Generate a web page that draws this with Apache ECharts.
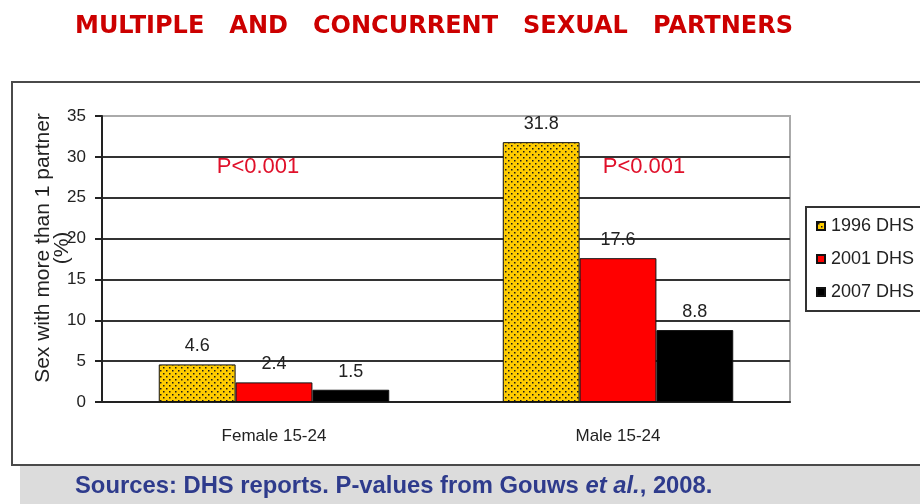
<!DOCTYPE html>
<html>
<head>
<meta charset="utf-8">
<script src="https://cdn.jsdelivr.net/npm/echarts@6/dist/echarts.min.js"></script>
<style>
  html, body { margin: 0; padding: 0; background: #fff; }
  #chart { width: 920px; height: 504px; }
</style>
</head>
<body>
<div id="chart"></div>
<script>
const categories = ['Female 15-24', 'Male 15-24']
const seriesNames = ['1996 DHS', '2001 DHS', '2007 DHS']
const dhs1996 = [4.6, 31.8]
const dhs2001 = [2.4, 17.6]
const dhs2007 = [1.5, 8.8]
const yTicks = [0, 5, 10, 15, 20, 25, 30, 35]

// dotted yellow fill like the original
function dotPattern() {
  const c = document.createElement('canvas')
  c.width = 6
  c.height = 6
  const ctx = c.getContext('2d')
  ctx.fillStyle = '#ffcc00'
  ctx.fillRect(0, 0, 6, 6)
  ctx.fillStyle = '#1a1a1a'
  ctx.fillRect(1, 1, 1.5, 1.5)
  ctx.fillRect(4, 4, 1.5, 1.5)
  return c
}

const colors = [{ image: dotPattern(), repeat: 'repeat' }, '#ff0000', '#000000']
const values = [dhs1996, dhs2001, dhs2007]

const chart = echarts.init(document.getElementById('chart'))

const labelStyle = {
  show: true,
  position: 'top',
  distance: 9,
  fontFamily: 'Liberation Sans, Arial',
  fontSize: 18,
  color: '#222'
}

chart.setOption({
  animation: false,
  title: {
    text: 'MULTIPLE   AND   CONCURRENT   SEXUAL   PARTNERS',
    left: 70,
    top: 10,
    textStyle: {
      fontFamily: 'DejaVu Sans',
      fontWeight: 'bold',
      fontSize: 24,
      color: '#cc0000'
    }
  },
  legend: {
    orient: 'vertical',
    left: 806,
    top: 207,
    padding: [10, 40, 10, 10],
    itemGap: 15,
    itemWidth: 8,
    itemHeight: 8,
    icon: 'rect',
    borderColor: '#333',
    borderWidth: 2,
    textStyle: {
      fontFamily: 'Liberation Sans, Arial',
      fontSize: 18,
      color: '#222',
      padding: [0, 0, 0, 1]
    },
    data: seriesNames
  },
  grid: {
    left: 102,
    right: 130,
    top: 116,
    bottom: 102,
    show: true,
    borderColor: '#aaa',
    borderWidth: 2
  },
  xAxis: {
    type: 'category',
    data: categories,
    axisLine: { lineStyle: { color: '#222', width: 2 } },
    axisTick: { show: false },
    axisLabel: {
      margin: 26,
      fontFamily: 'Liberation Sans, Arial',
      fontSize: 17,
      color: '#222'
    }
  },
  yAxis: {
    type: 'value',
    min: yTicks[0],
    max: yTicks[yTicks.length - 1],
    interval: 5,
    name: 'Sex with more than 1 partner\n(%)',
    nameLocation: 'middle',
    nameRotate: 90,
    nameGap: 30,
    nameMoveOverlap: false,
    nameTextStyle: {
      fontFamily: 'Liberation Sans, Arial',
      fontSize: 21,
      lineHeight: 19,
      color: '#222',
      padding: [0, 0, 0, 22]
    },
    axisLine: { show: true, lineStyle: { color: '#222', width: 2 } },
    axisTick: { show: true, length: 7, lineStyle: { color: '#222', width: 2 } },
    axisLabel: {
      margin: 16,
      fontFamily: 'Liberation Sans, Arial',
      fontSize: 17,
      color: '#222'
    },
    splitLine: {
      lineStyle: {
        color: ['#333', '#333', '#333', '#333', '#333', '#333', '#333', '#aaa'],
        width: 2
      }
    }
  },
  series: seriesNames.map((name, i) => ({
    name,
    type: 'bar',
    data: values[i],
    barGap: '0%',
    barCategoryGap: '33%',
    itemStyle: { color: colors[i], borderColor: '#111', borderWidth: 1 },
    label: labelStyle
  })),
  graphic: [
    {
      type: 'rect',
      z: -10,
      shape: { x: 12, y: 82, width: 940, height: 383 },
      style: { fill: 'none', stroke: '#4a4a4a', lineWidth: 2 }
    },
    {
      type: 'rect',
      z: -10,
      shape: { x: 20, y: 466, width: 920, height: 40 },
      style: { fill: '#dcdcdc' }
    },
    {
      type: 'text',
      x: 75,
      y: 486,
      style: {
        text: '{b|Sources: DHS reports. P-values from Gouws }{i|et al.}{b|, 2008.}',
        verticalAlign: 'middle',
        rich: {
          b: { fontFamily: 'Liberation Sans, Arial', fontWeight: 'bold', fontSize: 23.8, fill: '#2e3b8c' },
          i: { fontFamily: 'Liberation Sans, Arial', fontWeight: 'bold', fontStyle: 'italic', fontSize: 23.8, fill: '#2e3b8c' }
        }
      }
    },
    {
      type: 'text',
      x: 258,
      y: 167,
      style: {
        text: 'P<0.001',
        align: 'center',
        verticalAlign: 'middle',
        fontFamily: 'Liberation Sans, Arial',
        fontSize: 22,
        fill: '#e0102a'
      }
    },
    {
      type: 'text',
      x: 644,
      y: 167,
      style: {
        text: 'P<0.001',
        align: 'center',
        verticalAlign: 'middle',
        fontFamily: 'Liberation Sans, Arial',
        fontSize: 22,
        fill: '#e0102a'
      }
    }
  ]
})

window.addEventListener('resize', () => chart.resize())
</script>
</body>
</html>
